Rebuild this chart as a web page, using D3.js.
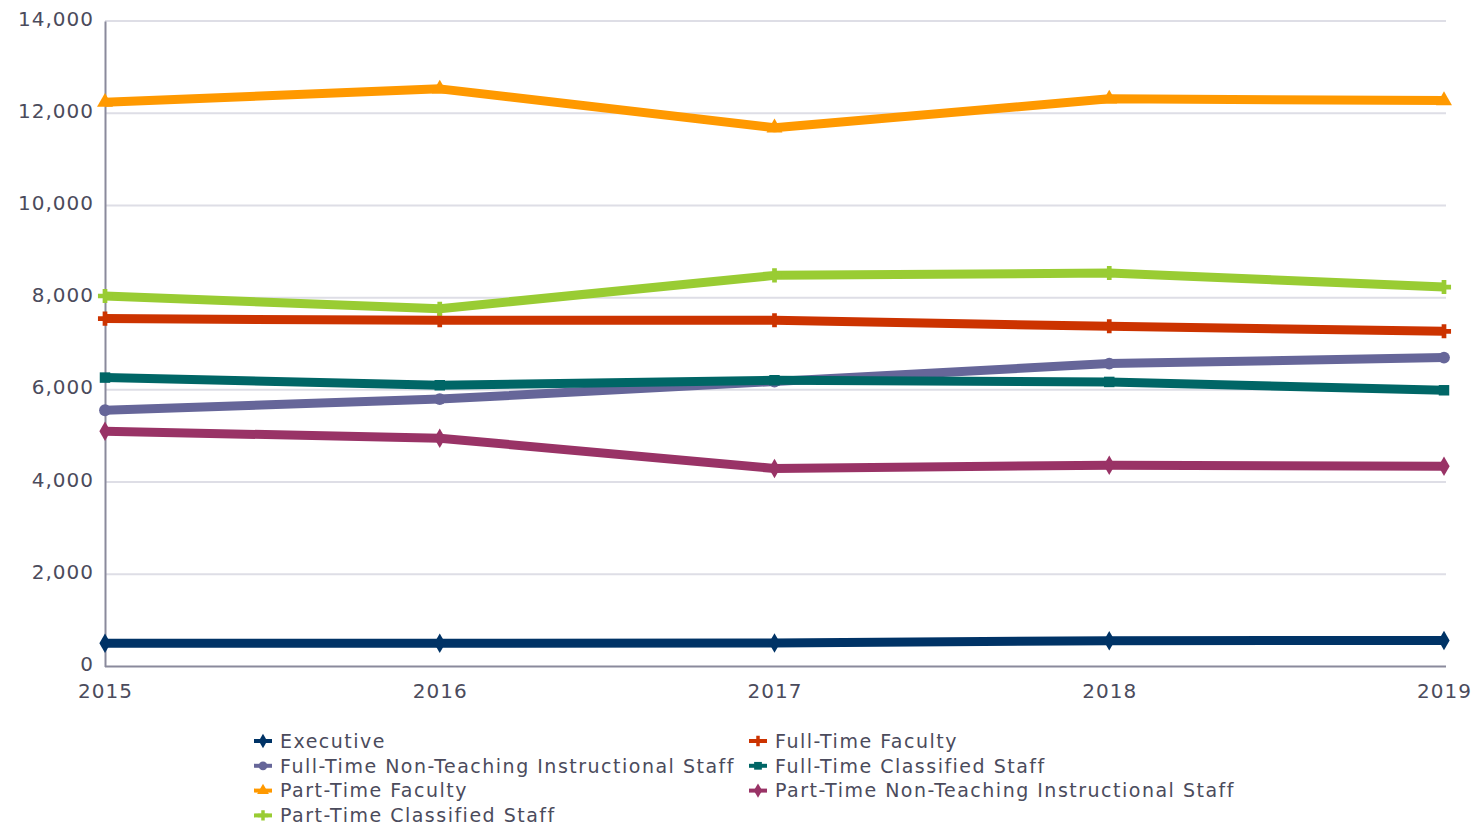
<!DOCTYPE html>
<html>
<head>
<meta charset="utf-8">
<script src="https://cdn.jsdelivr.net/npm/d3@7"></script>
<style>
body { margin: 0; background: #fff; }
text { font-family: "DejaVu Sans", sans-serif; fill: #4b4b5c; }
</style>
</head>
<body>
<svg id="chart" width="1477" height="829"></svg>
<script>
var YEARS = ["2015", "2016", "2017", "2018", "2019"];
var Y_TICKS = [0, 2000, 4000, 6000, 8000, 10000, 12000, 14000];

var SERIES_NAMES = [
	"Executive",
	"Full-Time Faculty",
	"Full-Time Non-Teaching Instructional Staff",
	"Full-Time Classified Staff",
	"Part-Time Faculty",
	"Part-Time Non-Teaching Instructional Staff",
	"Part-Time Classified Staff"
];

var executive = [505, 505, 510, 560, 565];
var ftFaculty = [7545, 7508, 7508, 7378, 7270];
var ftNonTeaching = [5558, 5800, 6180, 6570, 6700];
var ftClassified = [6266, 6100, 6208, 6172, 5991];
var ptFaculty = [12238, 12528, 11684, 12312, 12275];
var ptNonTeaching = [5103, 4951, 4294, 4366, 4345];
var ptClassified = [8035, 7761, 8483, 8533, 8230];

var COLORS = ["#003366", "#cc3300", "#666699", "#006666", "#ff9900", "#993366", "#99cc33"];
var SYMBOLS = [d3.symbolDiamond, d3.symbolCross, d3.symbolCircle, d3.symbolSquare, d3.symbolTriangle, d3.symbolDiamond, d3.symbolCross];

var seriesValues = [executive, ftFaculty, ftNonTeaching, ftClassified, ptFaculty, ptNonTeaching, ptClassified];
// draw order so the top-most lines match the picture
var DRAW_ORDER = [0, 5, 2, 3, 1, 6, 4];

var svg = d3.select("#chart");
var margin = {left: 105, right: 1444, top: 21, bottom: 666.5};

var x = d3.scalePoint().domain(YEARS).range([margin.left, margin.right]);
var y = d3.scaleLinear().domain([0, 14000]).range([margin.bottom, margin.top]);

// grid
svg.append("g").selectAll("line.grid")
	.data(Y_TICKS.filter(function(d) { return d > 0; }))
	.enter().append("line")
	.attr("class", "grid")
	.attr("x1", margin.left).attr("x2", 1446)
	.attr("y1", function(d) { return y(d); })
	.attr("y2", function(d) { return y(d); })
	.style("stroke", "#dedee6").style("stroke-width", 2);

// y axis
var yAxis = svg.append("g")
	.attr("transform", "translate(" + margin.left + ",0)")
	.call(d3.axisLeft(y).tickValues(Y_TICKS).tickFormat(d3.format(",")).tickSize(0).tickPadding(11));
yAxis.select(".domain").style("stroke", "#8a8a9c").style("stroke-width", 2);
yAxis.selectAll("text").style("font-size", "20px").style("letter-spacing", "1px").attr("dy", "0.2em");

// x axis
var xAxis = svg.append("g")
	.attr("transform", "translate(0," + margin.bottom + ")")
	.call(d3.axisBottom(x).tickSize(0).tickPadding(17));
xAxis.select(".domain").attr("d", "M" + margin.left + ",0H1446").style("stroke", "#8a8a9c").style("stroke-width", 2);
xAxis.selectAll("text").style("font-size", "20px").style("letter-spacing", "1px");

var line = d3.line()
	.x(function(d, i) { return x(YEARS[i]); })
	.y(function(d) { return y(d); });

DRAW_ORDER.forEach(function(s) {
	var g = svg.append("g").attr("class", "series");
	g.append("path")
		.datum(seriesValues[s])
		.attr("d", line)
		.style("fill", "none")
		.style("stroke", COLORS[s])
		.style("stroke-width", 9)
		.style("stroke-linejoin", "round");
	g.selectAll("path.marker")
		.data(seriesValues[s])
		.enter().append("path")
		.attr("class", "marker")
		.attr("transform", function(d, i) { return "translate(" + x(YEARS[i]) + "," + y(d) + ")"; })
		.attr("d", d3.symbol().type(SYMBOLS[s]).size(110))
		.style("fill", COLORS[s]);
});

// legend
var legend = svg.append("g");
var LEG_COL = [263, 758];
var LEG_ROW0 = 741, LEG_ROW_H = 24.8;
SERIES_NAMES.forEach(function(name, i) {
	var cx = LEG_COL[i % 2];
	var cy = LEG_ROW0 + Math.floor(i / 2) * LEG_ROW_H;
	var item = legend.append("g").attr("transform", "translate(" + cx + "," + cy + ")");
	item.append("line")
		.attr("x1", -9).attr("x2", 9)
		.style("stroke", COLORS[i]).style("stroke-width", 4);
	item.append("path")
		.attr("d", d3.symbol().type(SYMBOLS[i]).size(60))
		.style("fill", COLORS[i]);
	item.append("text")
		.attr("x", 17).attr("dy", "0.36em")
		.style("font-size", "19px")
		.style("letter-spacing", "1.5px")
		.text(name);
});
</script>
</body>
</html>
